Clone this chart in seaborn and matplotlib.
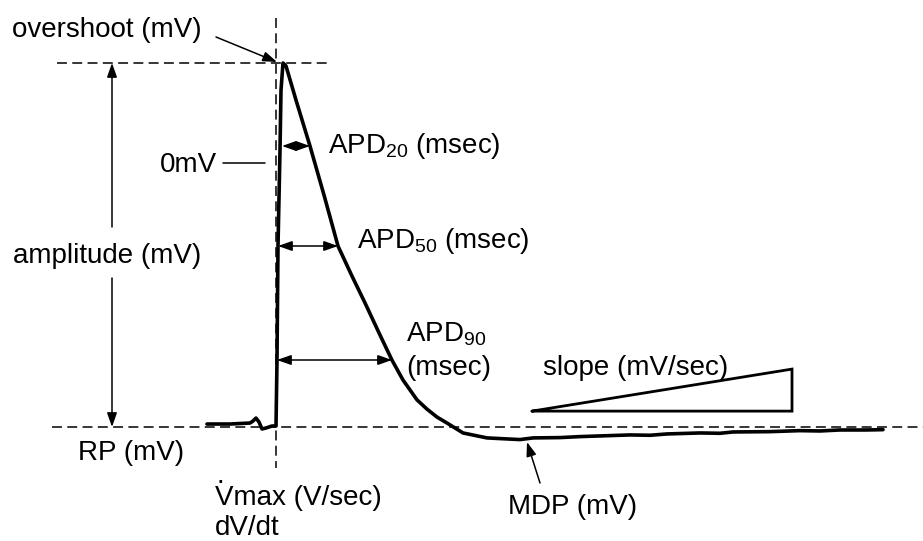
import numpy as np
import pandas as pd
import matplotlib
matplotlib.use("Agg")
import matplotlib.pyplot as plt
import seaborn as sns

# ---- data: action potential trace (time in ms, membrane potential in mV) ----
time_ms = [-69, -46, -26, -23, -20, -17, -14, -10, -4, 0, 1, 2, 4, 5, 7, 10, 20, 34, 48, 62,
           76, 89, 104, 116, 127, 141, 151, 161, 171, 187, 211, 224, 244, 257, 284, 304, 324,
           354, 374, 391, 424, 444, 457, 494, 524, 544, 564, 590, 607]
voltage_mv = [-79.1, -79.1, -78.8, -78.2, -77.3, -78.5, -80.6, -80.3, -79.7, -79.7, -59.8,
              -25.3, 3.7, 21.8, 30.0, 29.1, 18.8, 4.9, -9.9, -25.3, -34.4, -42.5, -52.2, -59.8,
              -65.8, -71.8, -74.6, -77.0, -78.8, -81.8, -83.3, -83.5, -83.8, -83.3, -83.2, -82.9,
              -82.7, -82.4, -82.5, -82.1, -81.8, -81.9, -81.5, -81.4, -81.1, -81.2, -80.9, -80.9,
              -80.8]

RP_MV = -80.0          # resting potential
OVERSHOOT_MV = 30.0    # peak
slope_t = [256, 516, 516, 256]
slope_v = [-75.2, -62.5, -75.2, -75.2]

# ---- pixel <-> data helpers for layout ----
PX_PER_MV = 3.309
X0 = 276
Y_RP = 427


def P(xp, yp):
    return (xp - X0, RP_MV + (Y_RP - yp) / PX_PER_MV)


sns.set_theme(style="white")
plt.rcParams["font.family"] = ["Liberation Sans", "DejaVu Sans"]
plt.rcParams["mathtext.fontset"] = "custom"
plt.rcParams["mathtext.rm"] = "Liberation Sans"
plt.rcParams["mathtext.it"] = "Liberation Sans:italic"

fig = plt.figure(figsize=(9.23, 5.41), dpi=100)
fig.patch.set_facecolor("white")
ax = fig.add_axes([0, 0, 1, 1])
x_left, y_top = P(0, 0)
x_right, y_bot = P(923, 541)
ax.set_xlim(x_left, x_right)
ax.set_ylim(y_bot, y_top)
ax.axis("off")

df = pd.DataFrame({"time": time_ms, "voltage": voltage_mv})
sns.lineplot(data=df, x="time", y="voltage", sort=False, estimator=None,
             color="black", lw=2.6, ax=ax, zorder=3)

dash = dict(color="black", lw=1.1, linestyle=(0, (6.5, 3.5)), zorder=2)
# overshoot level, upstroke time, RP level
ax.plot([P(57, 0)[0], P(328, 0)[0]], [OVERSHOOT_MV, OVERSHOOT_MV], **dash)
ax.plot([0, 0], [P(0, 18)[1], P(0, 468)[1]], **dash)
ax.plot([P(52, 0)[0], x_right], [RP_MV, RP_MV], **dash)

# slope triangle
ax.plot(slope_t, slope_v, color="black", lw=2.0, solid_joinstyle="miter")

FS = 20
def txt(xp, yp, s, **kw):
    ax.text(*P(xp, yp), s, fontsize=FS, ha="left", va="baseline", color="black", **kw)

txt(12, 37, "overshoot (mV)")
txt(160, 172, "0mV")
txt(13, 263, "amplitude (mV)")
txt(78, 460, "RP (mV)")
txt(328, 153, r"APD$_{20}$ (msec)")
txt(357, 248, r"APD$_{50}$ (msec)")
txt(406, 342, r"APD$_{90}$")
txt(406, 375, "(msec)")
txt(543, 375, "slope (mV/sec)")
txt(215, 505, "Vmax (V/sec)")
txt(217, 483, ".")
txt(215, 535, "dV/dt")
txt(508, 514, "MDP (mV)")

# 0mV pointer line
ax.plot([P(223, 0)[0], P(265, 0)[0]], [P(0, 163)[1]] * 2, color="black", lw=1.1)


def arrow(p_from, p_to, style="-|>"):
    ax.annotate("", xy=P(*p_to), xytext=P(*p_from),
                arrowprops=dict(arrowstyle=f"{style},head_length=0.85,head_width=0.3",
                                mutation_scale=10, color="black", lw=1.1,
                                shrinkA=0, shrinkB=0), zorder=4)


# amplitude (broken by text)
arrow((112, 227), (112, 63))
arrow((112, 278), (112, 427))
# APD arrows
arrow((282, 146), (310, 146), "<|-|>")
arrow((278, 246), (338, 246), "<|-|>")
arrow((277, 360), (392, 360), "<|-|>")
# overshoot and MDP pointers
arrow((216, 37), (277, 62))
arrow((540, 483), (527, 442))

fig.savefig("out.png", dpi=100, facecolor="white")
